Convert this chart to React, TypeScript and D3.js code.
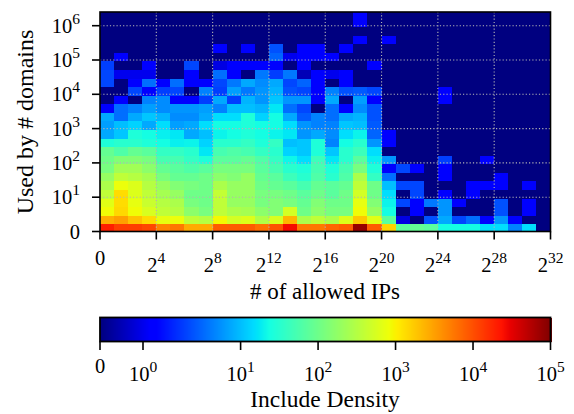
import React from "react";
import * as d3 from "d3";

// densities per cell, one list per row (bottom row first), columns are log2 bins 0..31
const row00 = [19500, 12600, 12600, 11000, 4700, 5500, 2700, 2700, 8300, 8300, 8300, 6300, 9500, 25700, 5500, 5500, 7200, 8300, 76000, 8300, 1500, 72, 85, 72, 23, 23, 23, 15, 15, 5.3, 15, 0];
const row01 = [2500, 3100, 1900, 1320, 708, 770, 372, 316, 880, 513, 600, 290, 560, 2300, 270, 372, 270, 600, 1740, 650, 72, 0.9, 0, 3.2, 8, 2.85, 4.3, 1.2, 6.5, 1.2, 0, 0];
const row02 = [830, 1400, 830, 560, 372, 316, 162, 117, 372, 270, 245, 162, 138, 513, 100, 162, 117, 117, 830, 190, 23, 0, 1.2, 0, 6.5, 0, 0, 0, 3.2, 0, 1.2, 0];
const row03 = [650, 1320, 708, 437, 316, 270, 117, 100, 372, 190, 190, 117, 138, 117, 85, 138, 100, 100, 708, 138, 20, 2.85, 1.2, 4.8, 6.5, 1.2, 0, 0, 3.2, 0, 1.2, 0];
const row04 = [372, 1320, 600, 372, 245, 190, 100, 100, 400, 190, 190, 117, 117, 100, 72, 100, 72, 100, 513, 100, 15, 0, 2.85, 0, 1.2, 0, 1.2];
const row05 = [270, 770, 600, 316, 190, 138, 117, 100, 270, 190, 190, 100, 85, 72, 52, 85, 72, 85, 372, 100, 10, 2.85, 2.85, 0, 0, 0, 1.2, 1.2, 1.2, 0, 1.2];
const row06 = [190, 372, 316, 245, 117, 85, 85, 100, 162, 138, 190, 85, 72, 44, 32, 60, 32, 60, 270, 38, 4.3, 0, 0, 0, 1.2, 0, 0, 0, 1.2];
const row07 = [117, 229, 229, 162, 85, 72, 60, 72, 117, 117, 117, 72, 52, 32, 27, 52, 27, 52, 117, 27, 1.2, 2.85, 1.2, 0, 1.2];
const row08 = [100, 138, 138, 117, 52, 52, 38, 27, 72, 72, 85, 60, 38, 21, 15, 44, 17, 32, 72, 19, 6.5, 0, 0, 0, 2.6, 0, 0, 1.2];
const row09 = [85, 60, 85, 72, 38, 38, 32, 17, 52, 60, 52, 38, 32, 13, 11, 27, 11, 32, 44, 15];
const row10 = [27, 32, 32, 27, 23, 19, 20, 13, 32, 32, 38, 27, 38, 10, 11, 27, 5.3, 23, 32, 6.5, 1.2];
const row11 = [8, 11, 27, 23, 19, 17, 8, 10, 20, 23, 27, 23, 20, 17, 6.5, 8, 5.9, 15, 20, 3.9, 1.2];
const row12 = [7.2, 10, 13, 8, 15, 7.2, 8, 15, 23, 23, 27, 23, 23, 15, 6.5, 5.3, 5.3, 11, 10, 3.5];
const row13 = [8, 4.3, 8, 11, 8.9, 5.9, 5.9, 8, 15, 15, 27, 13, 23, 8, 3.5, 5.3, 4.3, 8, 8.9, 3.2];
const row14 = [1.2, 4.3, 5.3, 7.2, 5.9, 6.5, 6.5, 7.2, 5.3, 10, 10, 8.9, 17, 4.3, 2.85, 0, 4.3, 1.2, 5.9, 3.2];
const row15 = [0, 1.2, 0, 5.3, 5.9, 1.2, 1.2, 2.6, 8, 2.6, 8.9, 6.5, 11, 6.5, 6.5, 1.2, 8, 0, 7.2, 1.2, 0, 0, 0, 0, 1.2];
const row16 = [0, 0, 2.85, 1.2, 2.6, 2.85, 0, 5.3, 2.6, 7.2, 4.8, 6.5, 8.9, 3.2, 2.85, 1.2, 5.3, 3.2, 3.5, 2.85, 0, 0, 0, 0, 1.2];
const row17 = [2.85, 0, 1.2, 4.3, 1.2, 4.3, 1.2, 1.2, 2.85, 4.8, 8, 5.9, 8, 2.85, 3.9, 1.2, 0, 1.2];
const row18 = [2.85, 1, 1, 1, 0, 0, 1.2, 0, 4.3, 1.2, 0, 4.8, 2.6, 4.8, 0.5, 1.2, 1, 1.2];
const row19 = [2.6, 0, 0, 1.2, 0, 0, 2.85, 0, 0.9, 1.2, 1.2, 1.2, 1.2, 0, 1.2, 0, 0, 0, 0, 1.2];
const row20 = [0, 1.2, 0, 0, 0, 0, 0, 0, 0, 0, 0, 0, 3.9, 1, 1.2, 1.2, 1.2];
const row21 = [0, 0, 0, 0, 0, 0, 0, 0, 1.2, 0, 1.2, 0, 3.2, 0, 1.2, 1.2, 0, 1.2];
const row22 = [0, 0, 0, 0, 0, 0, 0, 0, 0, 0, 0, 0, 0, 0, 0, 0, 0, 0, 1.2, 0, 1.2];
const row23: number[] = [];
const row24 = [0, 0, 0, 0, 0, 0, 0, 0, 0, 0, 0, 0, 0, 0, 0, 0, 0, 0, 1.2];
const row25 = [0, 0, 0, 0, 0, 0, 0, 0, 0, 0, 0, 0, 0, 0, 0, 0, 0, 0, 1.2];
const densityRows = [row00, row01, row02, row03, row04, row05, row06, row07, row08, row09, row10, row11, row12, row13, row14, row15, row16, row17, row18, row19, row20, row21, row22, row23, row24, row25];

const xTickPowers = [0, 4, 8, 12, 16, 20, 24, 28, 32];
const yTickPowers = [0, 1, 2, 3, 4, 5, 6];
const barTickPowers = [0, 1, 2, 3, 4, 5];

const serif = "'Liberation Serif', serif";
const plot = { left: 100, right: 550.5, top: 12, bottom: 231.5 };
const bar = { top: 317.5, bottom: 341.5 };

const x = d3.scaleLinear().domain([0, 32]).range([plot.left, plot.right]);
// y runs in decades, "0" sits one decade below 10^1
const y = d3.scaleLinear().domain([0, 1]).range([plot.bottom, plot.bottom - 34.3]);

// symlog-ish colour axis: piecewise over log10(density)
const barPos = d3.scaleLinear().domain([0, 1, 5]).range([143, 240.6, 550.5]);
const barX = (v: number) =>
  v <= 0 ? plot.left : v < 1 ? plot.left + v * (barPos(0) - plot.left) : barPos(Math.log10(v));

const jetR = d3.scaleLinear().domain([0, 0.35, 0.66, 0.89, 1]).range([0, 0, 1, 1, 0.5]);
const jetG = d3.scaleLinear().domain([0, 0.125, 0.375, 0.64, 0.91, 1]).range([0, 0, 1, 1, 0, 0]);
const jetB = d3.scaleLinear().domain([0, 0.11, 0.34, 0.65, 1]).range([0.5, 1, 1, 0, 0]);
const jet = (t: number) =>
  d3.rgb(jetR(t) * 255, jetG(t) * 255, jetB(t) * 255).formatHex();

const barT = d3.scaleLinear().domain([plot.left, plot.right]).range([0, 1]).clamp(true);
const densityColor = (v: number) => jet(barT(barX(v)));

// row edges: bottom row is a bit short, the rest are a quarter decade
const rowEdge = (k: number) => (k === 0 ? 0 : (k - 0.16) / 4);

const Power = ({ x, y, base, exp, anchor }: any) => (
  <text x={x} y={y} textAnchor={anchor} fontFamily={serif} fontSize={20.5} fill="#000">
    <tspan>{base}</tspan>
    <tspan dy={-9} fontSize={15.5}>{exp}</tspan>
  </text>
);

export default function App() {
  const barStrips = d3.range(plot.left, plot.right, 1);
  return (
    <svg
      width={574}
      height={414}
      style={{ position: "absolute", left: 0, top: 0, background: "#fff" }}
    >
      <defs>
        <clipPath id="plotClip">
          <rect x={plot.left} y={plot.top} width={plot.right - plot.left} height={plot.bottom - plot.top} />
        </clipPath>
      </defs>

      <g clipPath="url(#plotClip)">
        <rect x={plot.left} y={plot.top} width={plot.right - plot.left} height={plot.bottom - plot.top} fill={jet(0)} />
        {densityRows.map((row, r) =>
          row.map((v, c) =>
            v > 0 ? (
              <rect
                key={r + "-" + c}
                x={x(c)}
                y={y(rowEdge(r + 1))}
                width={x(c + 1) - x(c)}
                height={y(rowEdge(r)) - y(rowEdge(r + 1))}
                fill={densityColor(v)}
                shapeRendering="crispEdges"
              />
            ) : null
          )
        )}
        {xTickPowers.slice(1, -1).map((p) => (
          <line key={p} x1={x(p)} x2={x(p)} y1={plot.top} y2={plot.bottom} stroke="#b4b4b4" strokeWidth={1.1} strokeDasharray="1.2 2.1" />
        ))}
        {yTickPowers.slice(1).map((p) => (
          <line key={p} x1={plot.left} x2={plot.right} y1={y(p)} y2={y(p)} stroke="#b4b4b4" strokeWidth={1.1} strokeDasharray="1.2 2.1" />
        ))}
      </g>

      <rect x={plot.left} y={plot.top} width={plot.right - plot.left} height={plot.bottom - plot.top} fill="none" stroke="#000" strokeWidth={1.6} />

      {xTickPowers.map((p) => (
        <g key={p}>
          <line x1={x(p)} x2={x(p)} y1={plot.bottom} y2={plot.bottom + 8} stroke="#000" strokeWidth={1.6} />
          {p === 0 ? (
            <text x={x(p)} y={265} textAnchor="middle" fontFamily={serif} fontSize={20.5}>0</text>
          ) : (
            <Power x={x(p)} y={272} base="2" exp={p} anchor="middle" />
          )}
        </g>
      ))}

      {yTickPowers.map((p) => (
        <g key={p}>
          <line x1={plot.left - 8} x2={plot.left} y1={y(p)} y2={y(p)} stroke="#000" strokeWidth={1.6} />
          {p === 0 ? (
            <text x={80} y={y(p) + 7} textAnchor="end" fontFamily={serif} fontSize={20.5}>0</text>
          ) : (
            <Power x={80} y={y(p) + 7} base="10" exp={p} anchor="end" />
          )}
        </g>
      ))}

      <text x={325} y={299} textAnchor="middle" fontFamily={serif} fontSize={23}># of allowed IPs</text>
      <text transform="translate(33,122) rotate(-90)" textAnchor="middle" fontFamily={serif} fontSize={24}>Used by # domains</text>

      {barStrips.map((px) => (
        <rect key={px} x={px} y={bar.top} width={1.5} height={bar.bottom - bar.top} fill={jet(barT(px))} shapeRendering="crispEdges" />
      ))}
      <rect x={plot.left} y={bar.top} width={plot.right - plot.left} height={bar.bottom - bar.top} fill="none" stroke="#000" strokeWidth={1.8} />

      <line x1={plot.left} x2={plot.left} y1={bar.bottom} y2={bar.bottom + 8.5} stroke="#000" strokeWidth={1.6} />
      <text x={plot.left} y={373} textAnchor="middle" fontFamily={serif} fontSize={20.5}>0</text>
      {barTickPowers.map((p) => (
        <g key={p}>
          <line x1={barPos(p)} x2={barPos(p)} y1={bar.bottom} y2={bar.bottom + 8.5} stroke="#000" strokeWidth={1.6} />
          <Power x={barPos(p)} y={381} base="10" exp={p} anchor="middle" />
        </g>
      ))}
      <text x={325} y={407} textAnchor="middle" fontFamily={serif} fontSize={23.5}>Include Density</text>
    </svg>
  );
}
